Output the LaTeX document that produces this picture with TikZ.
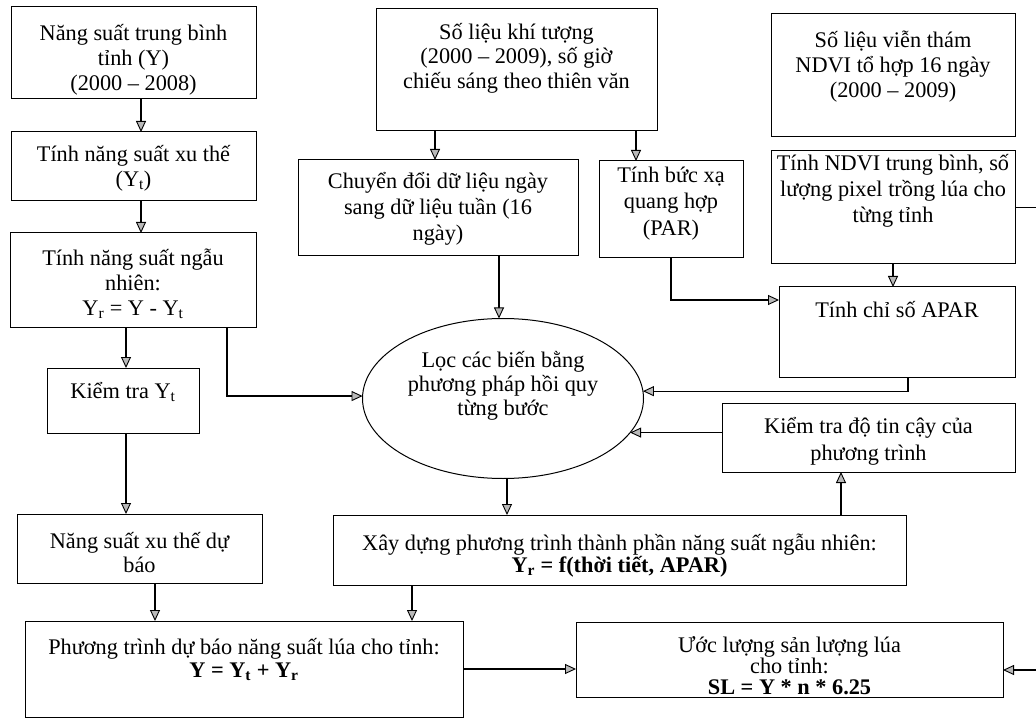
\documentclass[tikz,border=0pt]{standalone}
\usepackage{fontspec}
\setmainfont{Liberation Serif}
\usetikzlibrary{arrows.meta,shapes.geometric,calc}
\newcommand\fst{\rule{0pt}{22pt}}
\begin{document}
\begin{tikzpicture}[x=1pt,y=-1pt,
  box/.style={draw, line width=1pt, anchor=north west, inner sep=0pt, outer sep=0pt},
  txt/.style={anchor=north, inner sep=0pt, align=center, font={\fontsize{22.3}{#1}\selectfont\lineskiplimit=-100pt}},
  txt/.default=25,
  arr/.style={line width=1.2pt, -{Triangle[length=11pt,width=10pt,fill=gray!55,line width=0.9pt]}}]
\useasboundingbox (0,0) rectangle (1036,719);
% boxes
\node[box, minimum width=245pt, minimum height=92pt] (A) at (11,7) {};
\node[box, minimum width=245pt, minimum height=69pt] (B) at (11,132) {};
\node[box, minimum width=246pt, minimum height=94pt] (C) at (10,233) {};
\node[box, minimum width=152pt, minimum height=65pt] (D) at (47,368) {};
\node[box, minimum width=245pt, minimum height=69pt] (E) at (17,514) {};
\node[box, minimum width=438pt, minimum height=96pt] (F) at (25,621) {};
\node[box, minimum width=573pt, minimum height=70pt] (G) at (333,515) {};
\node[box, minimum width=427pt, minimum height=75pt] (H) at (576,622) {};
\node[box, minimum width=281pt, minimum height=122pt] (I) at (376,9) {};
\node[box, minimum width=280pt, minimum height=96pt] (J) at (298,160) {};
\node[box, minimum width=144pt, minimum height=97pt] (K) at (599,161) {};
\node[box, minimum width=244pt, minimum height=123pt] (L) at (771,14) {};
\node[box, minimum width=244pt, minimum height=113pt] (M) at (771,151) {};
\node[box, minimum width=236pt, minimum height=90pt] (N) at (779,287) {};
\node[box, minimum width=293pt, minimum height=69pt] (O) at (722,403) {};
\node[draw, line width=1pt, ellipse, inner sep=0pt, outer sep=0pt, minimum width=281pt, minimum height=160pt] (ell) at (503,398.5) {};
% texts
\node[txt] (tA) at (133.5,18) {\fst Năng suất trung bình\\tỉnh (Y)\\(2000 – 2008)};
\node[txt] (tB) at (133.5,139) {\fst Tính năng suất xu thế\\(Y\textsubscript{t})};
\node[txt] (tC) at (133,243) {\fst Tính năng suất ngẫu\\nhiên:\\Y\textsubscript{r} = Y - Y\textsubscript{t}};
\node[txt] (tD) at (123,376) {\fst Kiểm tra Y\textsubscript{t}};
\node[txt=24] (tE) at (139.5,526) {\fst Năng suất xu thế dự\\báo};
\node[txt=23] (tF) at (244,632) {\fst Phương trình dự báo năng suất lúa cho tỉnh:\\\textbf{Y = Y\textsubscript{t} + Y\textsubscript{r}}};
\node[txt=22] (tG) at (619.5,528) {\fst Xây dựng phương trình thành phần năng suất ngẫu nhiên:\\\textbf{Y\textsubscript{r} = f(thời tiết, APAR)}};
\node[txt=21] (tH) at (789.5,630) {\fst Ước lượng sản lượng lúa\\cho tỉnh:\\\textbf{SL = Y * n * 6.25}};
\node[txt=24.5] (tI) at (516.5,17) {\fst Số liệu khí tượng\\(2000 – 2009), số giờ\\chiếu sáng theo thiên văn};
\node[txt=26] (tJ) at (438,166) {\fst Chuyển đổi dữ liệu ngày\\sang dữ liệu tuần (16\\ngày)};
\node[txt=26.5] (tK) at (671,160) {\fst Tính bức xạ\\quang hợp\\(PAR)};
\node[txt] (tL) at (893,25) {\fst Số liệu viễn thám\\NDVI tổ hợp 16 ngày\\(2000 – 2009)};
\node[txt=26] (tM) at (893,148) {\fst Tính NDVI trung bình, số\\lượng pixel trồng lúa cho\\từng tỉnh};
\node[txt] (tN) at (897,295) {\fst Tính chỉ số APAR};
\node[txt=27] (tO) at (868.5,411) {\fst Kiểm tra độ tin cậy của\\phương trình};
\node[txt=24] (tE2) at (503,345) {\fst Lọc các biến bằng\\phương pháp hồi quy\\từng bước};
% connectors
\draw[arr] ([xshift=7.5pt]A.south) -- ([xshift=7.5pt]B.north);
\draw[arr] ([xshift=7.5pt]B.south) -- ([xshift=7.5pt]B.south |- C.north);
\draw[arr] ([xshift=3pt]D.north |- C.south) -- ([xshift=3pt]D.north);
\draw[arr] ([xshift=94pt]C.south) |- (ell.179);
\draw[arr] ([xshift=3pt]D.south) -- ([xshift=3pt]D.south |- E.north);
\draw[arr] ([xshift=15.5pt]E.south) -- ([xshift=15.5pt]E.south |- F.north);
\draw[arr] ([xshift=-207.5pt]G.south) -- ([xshift=-207.5pt]G.south |- F.north);
\draw[arr] (F.east) -- (F.east -| H.west);
\draw[arr] ([xshift=-3pt]J.north |- I.south) -- ([xshift=-3pt]J.north);
\draw[arr] ([xshift=-35pt]K.north |- I.south) -- ([xshift=-35pt]K.north);
\draw[arr] ([xshift=61pt]J.south) -- ([xshift=61pt]J.south |- ell.north);
\draw[arr] (K.south) |- ($(N.north west)+(0,13)$);
\draw[arr] (M.south) -- (M.south |- N.north);
\draw[arr] ([xshift=11pt]N.south) |- (ell.3);
\draw[arr] (O.west |- ell.345) -- (ell.345);
\draw[arr] ([xshift=221.5pt]G.north) -- ([xshift=221.5pt]G.north |- O.south);
\draw[arr] ([xshift=4pt]ell.south) -- ([xshift=4pt]ell.south |- G.north);
\coordinate (hin) at ($(H.east)+(0,10.5)$);
\coordinate (rt) at (1050,0);
\draw[arr] (M.east) -- (M.east -| rt) -- (rt |- hin) -- (hin);
\end{tikzpicture}
\end{document}
